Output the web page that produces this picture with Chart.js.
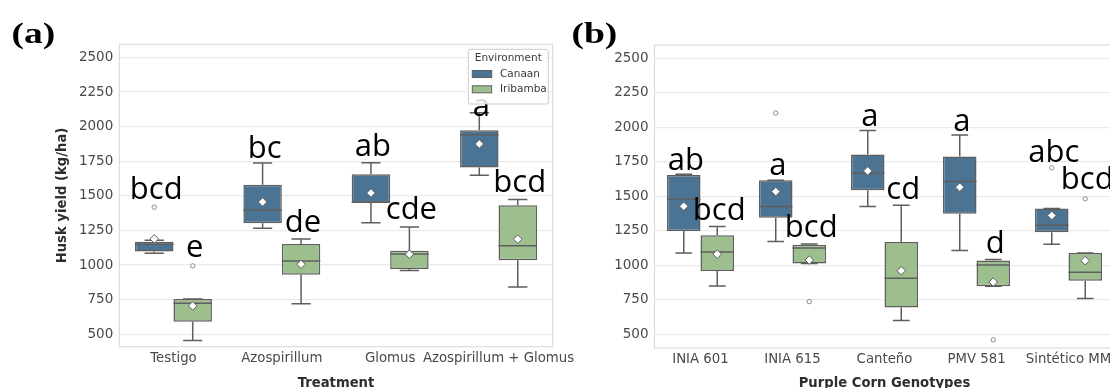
<!DOCTYPE html>
<html>
<head>
<meta charset="utf-8">
<script src="https://cdn.jsdelivr.net/npm/chart.js@4.4.1/dist/chart.umd.min.js"></script>
<style>
  html, body { margin: 0; padding: 0; overflow: hidden; background: #fff; width: 1110px; height: 388px; }
  .panel { position: absolute; top: 0; }
  #wrapA { left: 0; }
  #wrapB { left: 560px; }
</style>
</head>
<body>
<div class="panel" id="wrapA"><canvas id="chartA" width="600" height="400"></canvas></div>
<div class="panel" id="wrapB"><canvas id="chartB" width="580" height="400"></canvas></div>
<script>
// categories
const treatments = ['Testigo', 'Azospirillum', 'Glomus', 'Azospirillum + Glomus'];
const genotypes = ['INIA 601', 'INIA 615', 'Canteño', 'PMV 581', 'Sintético MM'];
const environments = ['Canaan', 'Iribamba'];
const yTicks = [500, 750, 1000, 1250, 1500, 1750, 2000, 2250, 2500];

// box stats: [lower whisker, Q1, median, Q3, upper whisker]
const canaanA = [[1085, 1097, 1150, 1169, 1180], [1266, 1302, 1398, 1581, 1738], [1306, 1449, 1456, 1656, 1740], [1649, 1704, 1942, 1974, 2101]];
const iribambaA = [[454, 591, 724, 755, 755], [721, 929, 1030, 1152, 1189], [960, 972, 1080, 1104, 1275], [842, 1035, 1140, 1432, 1473]];
const canaanMeanA = [1189, 1456, 1521, 1875];
const iribambaMeanA = [705, 1006, 1078, 1187];
const canaanOutA = [[1418], [], [], []];
const iribambaOutA = [[994], [], [], []];
const canaanLettersA = ['bcd', 'bc', 'ab', 'a'];
const iribambaLettersA = ['e', 'de', 'cde', 'bcd'];

const canaanB = [[1090, 1250, 1480, 1656, 1660], [1174, 1345, 1427, 1617, 1617], [1427, 1545, 1668, 1803, 1978], [1109, 1374, 1608, 1790, 1945], [1153, 1241, 1292, 1413, 1413]];
const iribambaB = [[851, 960, 1097, 1218, 1283], [1015, 1015, 1126, 1150, 1155], [601, 695, 907, 1169, 1436], [849, 849, 1003, 1035, 1044], [760, 890, 950, 1090, 1090]];
const canaanMeanB = [1429, 1535, 1685, 1567, 1362];
const iribambaMeanB = [1082, 1039, 962, 880, 1035];
const canaanOutB = [[], [2104], [], [], [1707]];
const iribambaOutB = [[], [738], [], [461], [1483]];
const canaanLettersB = ['ab', 'a', 'a', 'a', 'abc'];
const iribambaLettersB = ['bcd', 'bcd', 'cd', 'd', 'bcd'];

// heights (in kg/ha) where the significance letters sit
const canaanLetterAtA = [1475, 1772, 1788, 2077];
const iribambaLetterAtA = [1061, 1241, 1331, 1530];
const canaanLetterAtB = [1689, 1658, 2007, 1971, 1747];
const iribambaLetterAtB = [1328, 1205, 1483, 1093, 1555];

const colors = ['#4b7394', '#9dbf8e'];
const LINE = '#5e5e5e';
const TICK = '#4a4a4a';

function diamond(ctx, x, y, r) {
  ctx.beginPath();
  ctx.moveTo(x, y - r);
  ctx.lineTo(x + r, y);
  ctx.lineTo(x, y + r);
  ctx.lineTo(x - r, y);
  ctx.closePath();
  ctx.fill();
  ctx.stroke();
}

const boxParts = {
  id: 'boxParts',
  beforeDatasetsDraw(chart) {
    const {ctx, chartArea: a} = chart;
    const y = chart.scales.y;
    ctx.save();
    ctx.strokeStyle = '#d6d6d6';
    ctx.lineWidth = 1;
    ctx.strokeRect(a.left, a.top, a.right - a.left, a.bottom - a.top);
    ctx.strokeStyle = LINE;
    ctx.lineWidth = 1.5;
    chart.data.datasets.forEach((ds, i) => {
      chart.getDatasetMeta(i).data.forEach((bar, j) => {
        const [lo, q1, , q3, hi] = ds.stats[j];
        const w = bar.width;
        ctx.beginPath();
        ctx.moveTo(bar.x, y.getPixelForValue(q3));
        ctx.lineTo(bar.x, y.getPixelForValue(hi));
        ctx.moveTo(bar.x - w / 4, y.getPixelForValue(hi));
        ctx.lineTo(bar.x + w / 4, y.getPixelForValue(hi));
        ctx.moveTo(bar.x, y.getPixelForValue(q1));
        ctx.lineTo(bar.x, y.getPixelForValue(lo));
        ctx.moveTo(bar.x - w / 4, y.getPixelForValue(lo));
        ctx.lineTo(bar.x + w / 4, y.getPixelForValue(lo));
        ctx.stroke();
      });
    });
    ctx.restore();
  },
  afterDatasetsDraw(chart) {
    const {ctx} = chart;
    const y = chart.scales.y;
    ctx.save();
    chart.data.datasets.forEach((ds, i) => {
      chart.getDatasetMeta(i).data.forEach((bar, j) => {
        const w = bar.width;
        const med = y.getPixelForValue(ds.stats[j][2]);
        ctx.strokeStyle = LINE;
        ctx.lineWidth = 1.5;
        ctx.beginPath();
        ctx.moveTo(bar.x - w / 2, med);
        ctx.lineTo(bar.x + w / 2, med);
        ctx.stroke();
        // outliers
        ctx.strokeStyle = '#8a8a8a';
        ctx.fillStyle = '#fff';
        ctx.lineWidth = 1;
        ds.outliers[j].forEach(v => {
          ctx.beginPath();
          ctx.arc(bar.x, y.getPixelForValue(v), 2.2, 0, Math.PI * 2);
          ctx.fill();
          ctx.stroke();
        });
        // mean
        ctx.strokeStyle = LINE;
        diamond(ctx, bar.x, y.getPixelForValue(ds.means[j]), 4.3);
      });
    });
    ctx.restore();
  },
  afterDraw(chart, args, opts) {
    const {ctx, chartArea: a} = chart;
    const y = chart.scales.y;
    ctx.save();
    // significance letters
    ctx.fillStyle = '#000';
    ctx.font = '31px "Open Sans"';
    ctx.textAlign = 'center';
    ctx.textBaseline = 'alphabetic';
    chart.data.datasets.forEach((ds, i) => {
      chart.getDatasetMeta(i).data.forEach((bar, j) => {
        ctx.fillText(ds.letters[j], bar.x + 2, y.getPixelForValue(ds.letterAt[j]));
      });
    });
    // panel tag
    ctx.save();
    ctx.textAlign = 'left';
    ctx.font = 'bold 30px "Liberation Serif"';
    ctx.translate(11.5, 43);
    ctx.scale(1.25, 1);
    ctx.fillText(opts.tag, 0, 0);
    ctx.restore();
    // legend
    if (opts.legend) {
      const w = 80, h = 54.7;
      const x0 = a.right - 4.4 - w, y0 = a.top + 5;
      ctx.fillStyle = 'rgba(255,255,255,0.85)';
      ctx.strokeStyle = '#cccccc';
      ctx.lineWidth = 1;
      ctx.beginPath();
      ctx.roundRect(x0, y0, w, h, 2);
      ctx.fill();
      ctx.stroke();
      ctx.fillStyle = '#3a3a3a';
      ctx.font = '10.5px "DejaVu Sans"';
      ctx.textBaseline = 'middle';
      ctx.textAlign = 'center';
      ctx.fillText('Environment', x0 + w / 2, y0 + 9);
      ctx.textAlign = 'left';
      chart.data.datasets.forEach((ds, i) => {
        const ry = y0 + 24.7 + i * 15.3;
        ctx.fillStyle = ds.backgroundColor;
        ctx.strokeStyle = LINE;
        ctx.fillRect(x0 + 4, ry - 3.5, 19.4, 7);
        ctx.strokeRect(x0 + 4, ry - 3.5, 19.4, 7);
        ctx.fillStyle = '#3a3a3a';
        ctx.fillText(ds.label, x0 + 31.7, ry);
      });
    }
    ctx.restore();
  }
};

function makeDataset(i, stats, means, outliers, letters, letterAt) {
  return {
    label: environments[i],
    data: stats.map(s => [s[1], s[3]]),
    stats, means, outliers, letters, letterAt,
    backgroundColor: colors[i],
    borderColor: LINE,
    borderWidth: 1.5,
    borderSkipped: false
  };
}

function makeChart(id, cats, datasets, cfg) {
  return new Chart(document.getElementById(id), {
    type: 'bar',
    data: { labels: cats, datasets },
    options: {
      responsive: false,
      animation: false,
      categoryPercentage: cfg.catPct,
      barPercentage: 1,
      layout: { padding: cfg.padding },
      plugins: {
        legend: { display: false },
        tooltip: { enabled: false },
        boxParts: { tag: cfg.tag, legend: cfg.legend }
      },
      scales: {
        x: {
          grid: { display: false, drawTicks: false },
          border: { display: false },
          ticks: { color: TICK, font: { family: 'DejaVu Sans', size: 13.3 }, padding: 4, maxRotation: 0, autoSkip: false },
          title: { display: true, text: cfg.xTitle, color: '#2e2e2e', font: { family: 'DejaVu Sans', size: 13.2, weight: 'bold' }, padding: { top: 9, bottom: 9 } },
          afterFit: s => { s.height = cfg.xHeight; }
        },
        y: {
          min: cfg.yMin,
          max: cfg.yMax,
          afterBuildTicks: s => { s.ticks = yTicks.map(v => ({ value: v })); },
          grid: { color: '#ebebeb', lineWidth: 1.2, drawTicks: false },
          border: { display: false },
          ticks: { color: TICK, font: { family: 'DejaVu Sans', size: 13.5 }, padding: 6, callback: v => String(v) },
          title: { display: !!cfg.yTitle, text: cfg.yTitle, color: '#2e2e2e', font: { family: 'DejaVu Sans', size: 13.2, weight: 'bold' }, padding: { top: 55, bottom: 0 } },
          afterFit: s => { s.width = cfg.yWidth; }
        }
      }
    },
    plugins: [boxParts]
  });
}

makeChart('chartA', treatments, [
  makeDataset(0, canaanA, canaanMeanA, canaanOutA, canaanLettersA, canaanLetterAtA),
  makeDataset(1, iribambaA, iribambaMeanA, iribambaOutA, iribambaLettersA, iribambaLetterAtA)
], {
  tag: '(a)', legend: true, catPct: 0.71,
  padding: { left: 0, top: 44.3, right: 47.3, bottom: 0 },
  yMin: 410, yMax: 2595, yWidth: 119.3, xHeight: 53.3,
  xTitle: 'Treatment', yTitle: 'Husk yield (kg/ha)'
});

makeChart('chartB', genotypes, [
  makeDataset(0, canaanB, canaanMeanB, canaanOutB, canaanLettersB, canaanLetterAtB),
  makeDataset(1, iribambaB, iribambaMeanB, iribambaOutB, iribambaLettersB, iribambaLetterAtB)
], {
  tag: '(b)', legend: false, catPct: 0.728,
  padding: { left: 0, top: 45, right: 25.5, bottom: 0 },
  yMin: 402, yMax: 2597, yWidth: 94.5, xHeight: 52,
  xTitle: 'Purple Corn Genotypes', yTitle: ''
});
</script>
</body>
</html>
